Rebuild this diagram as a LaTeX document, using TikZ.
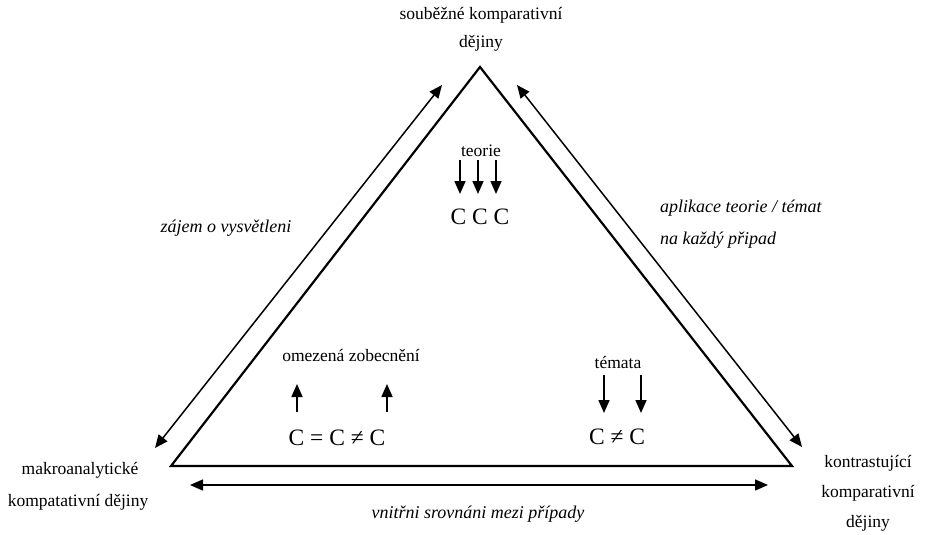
\documentclass[tikz,border=0pt]{standalone}
\usepackage{fontspec}
\setmainfont{Liberation Serif}
\usetikzlibrary{arrows.meta}
\begin{document}
\begin{tikzpicture}[x=1pt,y=-1pt,
  lbl/.style={font=\fontsize{17.5}{20}\selectfont, inner sep=0pt, anchor=center},
  ilbl/.style={font=\fontsize{18}{20}\selectfont\itshape, inner sep=0pt},
  cc/.style={font=\fontsize{23.5}{26}\selectfont, inner sep=0pt},
  tri/.style={line width=2.2pt, line join=miter},
  arr/.style={line width=1.6pt, -{Triangle[length=13pt,width=11pt]}},
  darr/.style={line width=1.5pt, {Triangle[length=13pt,width=11pt]}-{Triangle[length=13pt,width=11pt]}}]
\useasboundingbox (0,0) rectangle (927,535);
% triangle
\coordinate (A) at (480,67);
\coordinate (L) at (171,466);
\coordinate (R) at (792,466);
\draw[tri] (A) -- (R) -- (L) -- cycle;
% outer double arrows
\coordinate (la1) at (155,448);
\coordinate (la2) at (442,85);
\coordinate (ra1) at (517,85);
\coordinate (ra2) at (802,447);
\coordinate (ba1) at (190,485);
\coordinate (ba2) at (768,485);
\draw[darr] (la1) -- (la2);
\draw[darr] (ra1) -- (ra2);
\draw[darr] (ba1) -- (ba2);
% corner labels
\node[lbl] (top1) at (481,15) {souběžné komparativní};
\node[lbl] (top2) at (481,43) {dějiny};
\node[lbl] (lft1) at (80,470) {makroanalytické};
\node[lbl] (lft2) at (78,502) {kompatativní dějiny};
\node[lbl] (rgt1) at (868,463) {kontrastující};
\node[lbl] (rgt2) at (868,493) {komparativní};
\node[lbl] (rgt3) at (868,523) {dějiny};
% side labels
\node[ilbl] (lside) at (226,228) {zájem o vysvětleni};
\node[ilbl, anchor=west] (rside1) at (660,208) {aplikace teorie / témat};
\node[ilbl, anchor=west] (rside2) at (660,240) {na každý připad};
\node[ilbl] (bside) at (478,514) {vnitřni srovnáni mezi případy};
% top inner
\node[lbl] (teorie) at (481,151) {teorie};
\coordinate (t1s) at (460,160); \coordinate (t1e) at (460,194);
\coordinate (t2s) at (478,160); \coordinate (t2e) at (478,194);
\coordinate (t3s) at (496,160); \coordinate (t3e) at (496,194);
\draw[arr] (t1s) -- (t1e);
\draw[arr] (t2s) -- (t2e);
\draw[arr] (t3s) -- (t3e);
\node[cc] (ccc) at (480,217) {C C C};
% left inner
\node[lbl] (omez) at (351,355) {omezená zobecnění};
\coordinate (u1s) at (297,412); \coordinate (u1e) at (297,384);
\coordinate (u2s) at (387,412); \coordinate (u2e) at (387,384);
\draw[arr] (u1s) -- (u1e);
\draw[arr] (u2s) -- (u2e);
\node[cc] (ceq) at (337,438) {C = C \char"2260{} C};
% right inner
\node[lbl] (temata) at (618,362) {témata};
\coordinate (d1s) at (604,375); \coordinate (d1e) at (604,413);
\coordinate (d2s) at (641,375); \coordinate (d2e) at (641,413);
\draw[arr] (d1s) -- (d1e);
\draw[arr] (d2s) -- (d2e);
\node[cc] (cne) at (617,437) {C \char"2260{} C};
\end{tikzpicture}
\end{document}
